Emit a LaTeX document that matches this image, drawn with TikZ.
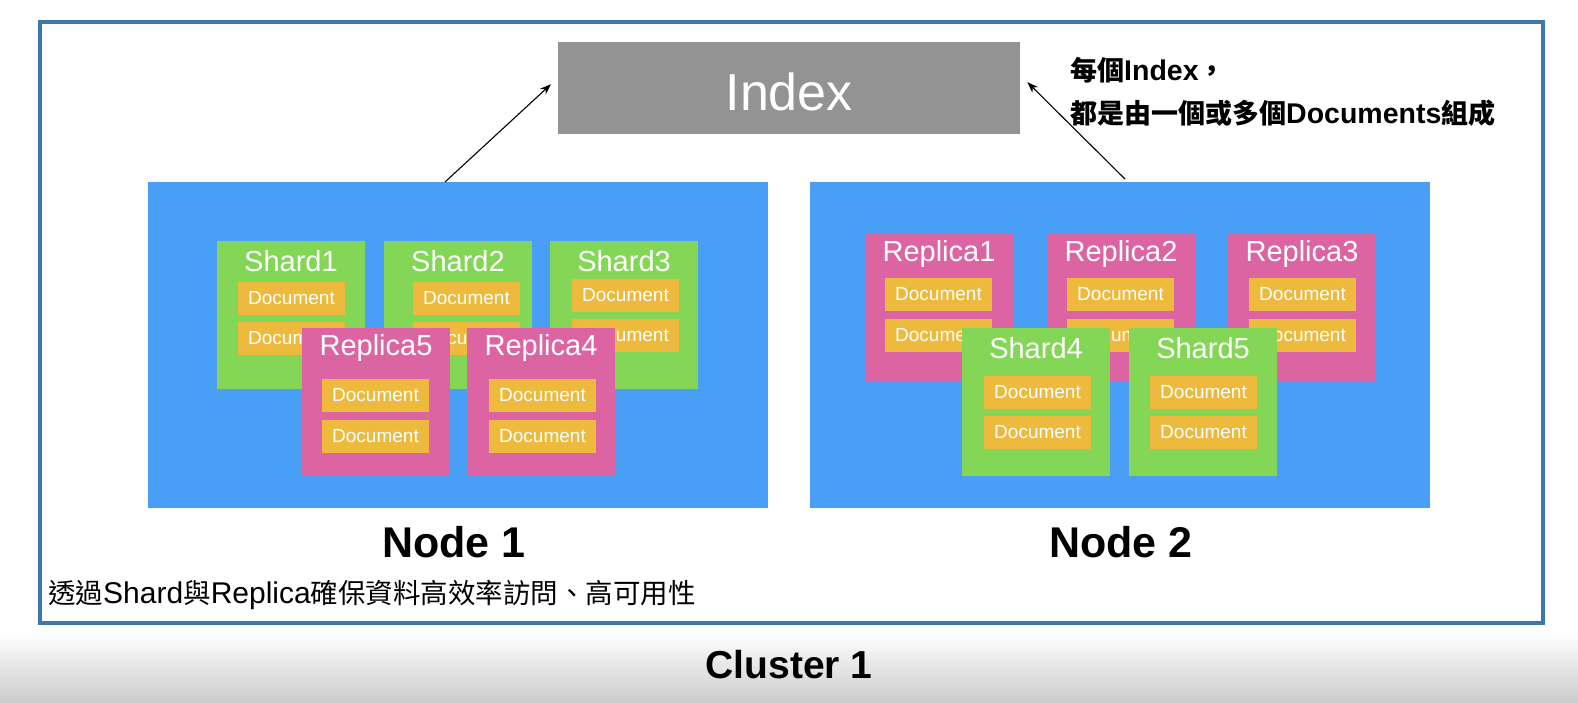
\documentclass[tikz,border=0pt]{standalone}
\usepackage{fontspec}
\setmainfont{Liberation Sans}
\newfontfamily\cjk{Noto Sans CJK TC}
\usetikzlibrary{calc,arrows.meta}
\definecolor{nodeblue}{HTML}{489FF5}
\definecolor{shardgreen}{HTML}{84D756}
\definecolor{replpink}{HTML}{DD64A2}
\definecolor{docorange}{HTML}{EDBA3E}
\definecolor{idxgray}{HTML}{939393}
\definecolor{clusterblue}{HTML}{3D79B1}
\tikzset{
  blk/.style={anchor=north west, inner sep=0pt, outer sep=0pt, minimum width=148pt, minimum height=148pt},
  sh/.style={blk, fill=shardgreen},
  rp/.style={blk, fill=replpink},
  doc/.style={anchor=north west, inner sep=0pt, outer sep=0pt, minimum width=107pt, minimum height=33pt, fill=docorange, text=white, font=\fontsize{19}{22}\selectfont},
  lbl/.style={text=white, inner sep=0pt, font=\fontsize{29}{34}\selectfont},
  hostbox/.style={anchor=north west, inner sep=0pt, outer sep=0pt, fill=nodeblue, minimum width=620pt, minimum height=326pt},
  arr/.style={-{Stealth[length=11pt,width=8pt]}, line width=1.1pt, black},
  hostlbl/.style={font=\bfseries\fontsize{43}{50}\selectfont, inner sep=0pt},
}
\newcommand\partbox[8]{%
  \node[#4] (#1) at (#2,#3) {};
  \node[lbl] (#1-l) at ($(#1.north)+(0,20)$) {#5};
  \node[doc] (#1-d1) at ($(#1.north west)+(#6,#7)$) {Document};
  \node[doc] (#1-d2) at ($(#1.north west)+(#6,#8)$) {Document};
}
\newcommand\cjb[1]{{\cjk\bfseries\fontsize{27}{32}\selectfont #1}}
\newcommand\ltb[1]{{\bfseries\fontsize{28.5}{32}\selectfont #1}}
\newcommand\cjr[1]{{\cjk\fontsize{27.5}{32}\selectfont #1}}
\newcommand\ltr[1]{{\fontsize{30}{32}\selectfont #1}}
\begin{document}
\begin{tikzpicture}[x=1pt,y=-1pt]
\useasboundingbox (0,0) rectangle (1578,702);
\fill[white] (0,0) rectangle (1578,702);
\fill[top color=white, bottom color=black!20] (0,632) rectangle (1578,702);
% cluster frame
\node[draw=clusterblue, line width=4pt, fill=white, anchor=north west, inner sep=0pt, minimum width=1503pt, minimum height=601pt] (cluster) at (38,20) {};
% index
\node[anchor=north west, fill=idxgray, inner sep=0pt, minimum width=462pt, minimum height=92pt] (index) at (558,42) {};
\node[text=white, inner sep=0pt, font=\fontsize{52}{60}\selectfont] (index-l) at ($(index.center)+(0,4)$) {Index};
% hosts
\node[hostbox] (node1) at (148,182) {};
\node[hostbox] (node2) at (810,182) {};
% node 1 contents
\partbox{s1}{217}{241}{sh}{Shard1}{21}{41}{81}
\partbox{s2}{384}{241}{sh}{Shard2}{29}{41}{81}
\partbox{s3}{550}{241}{sh}{Shard3}{22}{38}{78}
\partbox{r5}{302}{328}{rp}{Replica5}{20}{51}{92}
\partbox{r4}{467}{328}{rp}{Replica4}{22}{51}{92}
% node 2 contents
\partbox{r1}{865}{234}{rp}{Replica1}{20}{44}{85}
\partbox{r2}{1047}{234}{rp}{Replica2}{20}{44}{85}
\partbox{r3}{1228}{234}{rp}{Replica3}{21}{44}{85}
\partbox{s4}{962}{328}{sh}{Shard4}{22}{48}{88}
\partbox{s5}{1129}{328}{sh}{Shard5}{21}{48}{88}
% arrows
\coordinate (a1) at ($(node1.north west)+(297,0)$);
\coordinate (a2) at ($(index.west)+(-7,-4)$);
\coordinate (b1) at ($(node2.north west)+(315,-3)$);
\coordinate (b2) at ($(index.east)+(7,-6)$);
\draw[arr] (a1) -- (a2);
\draw[arr] (b1) -- (b2);
% labels
\node[hostlbl] (n1l) at (454,542) {Node 1};
\node[hostlbl] (n2l) at (1121,542) {Node 2};
\node[font=\bfseries\fontsize{39}{46}\selectfont, inner sep=0pt] (cl) at (789,665) {Cluster 1};
\node[anchor=west, inner sep=0pt] (note1) at (1070,70) {\cjb{每個}\ltb{Index}\cjb{，}};
\node[anchor=west, inner sep=0pt] (note2) at (1070,113) {\cjb{都是由一個或多個}\ltb{Documents}\cjb{組成}};
\node[anchor=west, inner sep=0pt] (note3) at (48,595) {\cjr{透過}\ltr{Shard}\cjr{與}\ltr{Replica}\cjr{確保資料高效率訪問、高可用性}};
\end{tikzpicture}
\end{document}
